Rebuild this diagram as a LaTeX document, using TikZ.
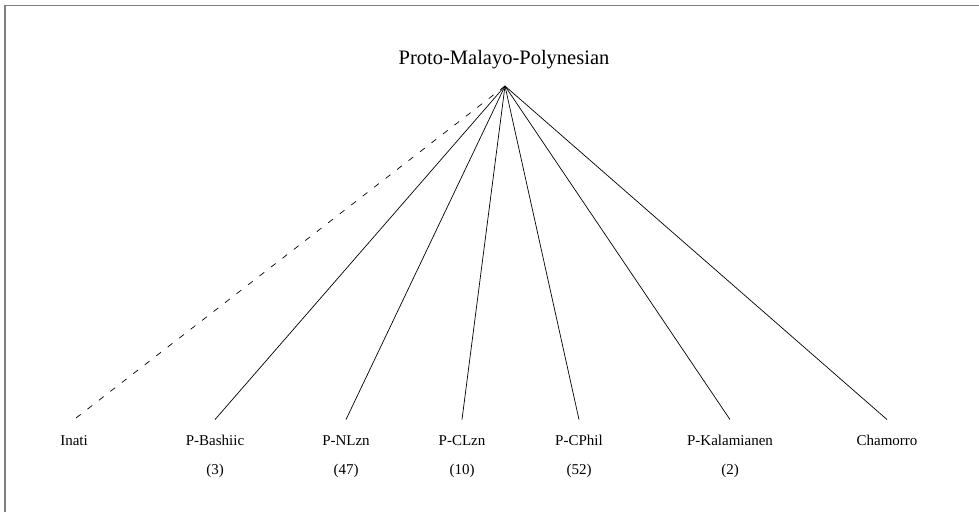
\documentclass[tikz,border=0pt]{standalone}
\usepackage{fontspec}
\setmainfont{Liberation Serif}
\begin{document}
\begin{tikzpicture}[x=1pt,y=-1pt,
  frameline/.style={draw=black!50,line width=1.4pt},
  branch/.style={draw=black,line width=0.7pt},
  uncertain/.style={branch,dash pattern=on 6pt off 8.5pt},
  leaf/.style={inner sep=0pt,text height=9.9pt,text depth=0pt,font=\fontsize{15}{17}\selectfont},
  count/.style={inner sep=0pt,font=\fontsize{15}{17}\selectfont},
  root/.style={inner sep=0pt,font=\fontsize{20.5}{23}\selectfont}]
\useasboundingbox (0,0) rectangle (979,512);
% frame (top and left edges)
\draw[frameline] (5,512) -- (5,5.5) -- (979,5.5);

% root
\node[root,anchor=base] (pmp) at (504,64.3) {Proto-Malayo-Polynesian};
\coordinate (apex) at (505,86);

% daughters
\node[leaf] (inati)  at (74,440.7)  {Inati};
\node[leaf] (bash)   at (215,440.7) {P-Bashiic};
\node[leaf] (nlzn)   at (346,440.7) {P-NLzn};
\node[leaf] (clzn)   at (462,440.7) {P-CLzn};
\node[leaf] (cphil)  at (579,440.7) {P-CPhil};
\node[leaf] (kala)   at (730,440.7) {P-Kalamianen};
\node[leaf] (cham)   at (887,440.7) {Chamorro};

% subgroup sizes
\node[count] (nbash)  at (215,471) {(3)};
\node[count] (nnlzn)  at (346,471) {(47)};
\node[count] (nclzn)  at (462,471) {(10)};
\node[count] (ncphil) at (579,471) {(52)};
\node[count] (nkala)  at (730,471) {(2)};

% branches
\draw[uncertain] (apex) -- ([yshift=16pt]inati.north);
\foreach \d in {bash,nlzn,clzn,cphil,kala,cham}
  \draw[branch] (apex) -- ([yshift=16pt]\d.north);
\end{tikzpicture}
\end{document}
